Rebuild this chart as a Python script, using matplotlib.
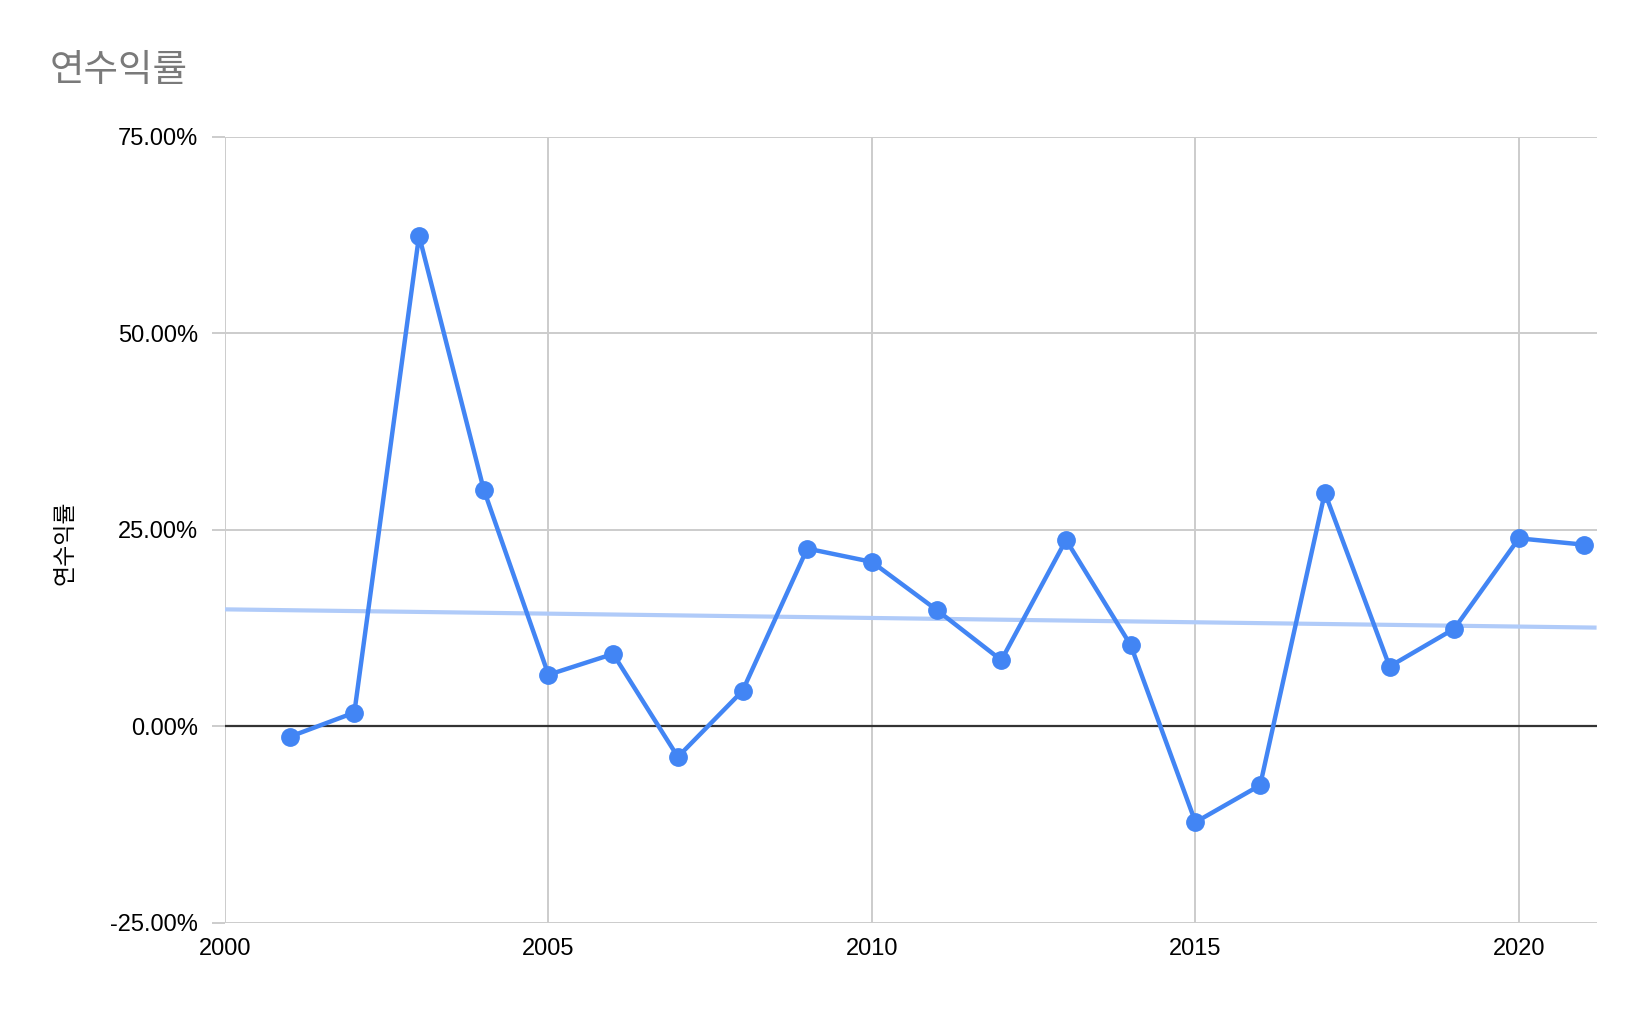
import numpy as np
import matplotlib
matplotlib.use("Agg")
import matplotlib.pyplot as plt
from matplotlib.ticker import FuncFormatter

# 연도별 수익률 (%)
anos = [2001, 2002, 2003, 2004, 2005, 2006, 2007, 2008, 2009, 2010, 2011,
        2012, 2013, 2014, 2015, 2016, 2017, 2018, 2019, 2020, 2021]
retornos = [-1.34, 1.74, 62.4, 30.1, 6.55, 9.2, -3.9, 4.5, 22.6, 20.9, 14.8,
            8.4, 23.7, 10.3, -12.2, -7.5, 29.7, 7.6, 12.4, 23.9, 23.1]
titulo = "연수익률"
y_ticks = [-25, 0, 25, 50, 75]
x_ticks = [2000, 2005, 2010, 2015, 2020]

azul = "#4285F4"
cinza_grade = "#CCCCCC"

plt.rcParams['font.family'] = ['Liberation Sans', 'Noto Sans CJK KR', 'DejaVu Sans']

fig = plt.figure(figsize=(16.48, 10.1), dpi=100)
ax = fig.add_axes([0.1365, 0.0863, 0.8323, 0.7785])

# linha de tendência (regressão linear)
coef = np.polyfit(anos, retornos, 1)
xs = np.array([2000, 2021.2])
ax.plot(xs, np.polyval(coef, xs), color="#B0CBF9", lw=3.0, zorder=2, solid_capstyle="butt")

ax.plot(anos, retornos, color=azul, lw=3.2, marker="o", markersize=12.5, zorder=3)

ax.set_xlim(2000, 2021.2)
ax.set_ylim(-25, 75)
ax.set_xticks(x_ticks)
ax.set_yticks(y_ticks)
ax.yaxis.set_major_formatter(FuncFormatter(lambda v, p: f"{v:.2f}%"))
ax.grid(True, color=cinza_grade, lw=1.4)
ax.axhline(0, color="#333333", lw=1.6, zorder=2)
for s in ax.spines.values():
    s.set_visible(False)

ax.tick_params(axis="y", length=9.4, width=1.4, color=cinza_grade, pad=10, labelsize=17)
ax.tick_params(axis="x", length=0, pad=11, labelsize=17)

ax.set_ylabel(titulo, family="Noto Sans CJK KR", fontsize=16.5)
ax.yaxis.set_label_coords(-0.108, 0.483)
fig.text(50 / 1648, 1 - 70 / 1010, titulo, family="Noto Sans CJK KR", fontsize=27,
         color="#7A7A7A", va="center", ha="left")

fig.savefig("out.png", dpi=100)
